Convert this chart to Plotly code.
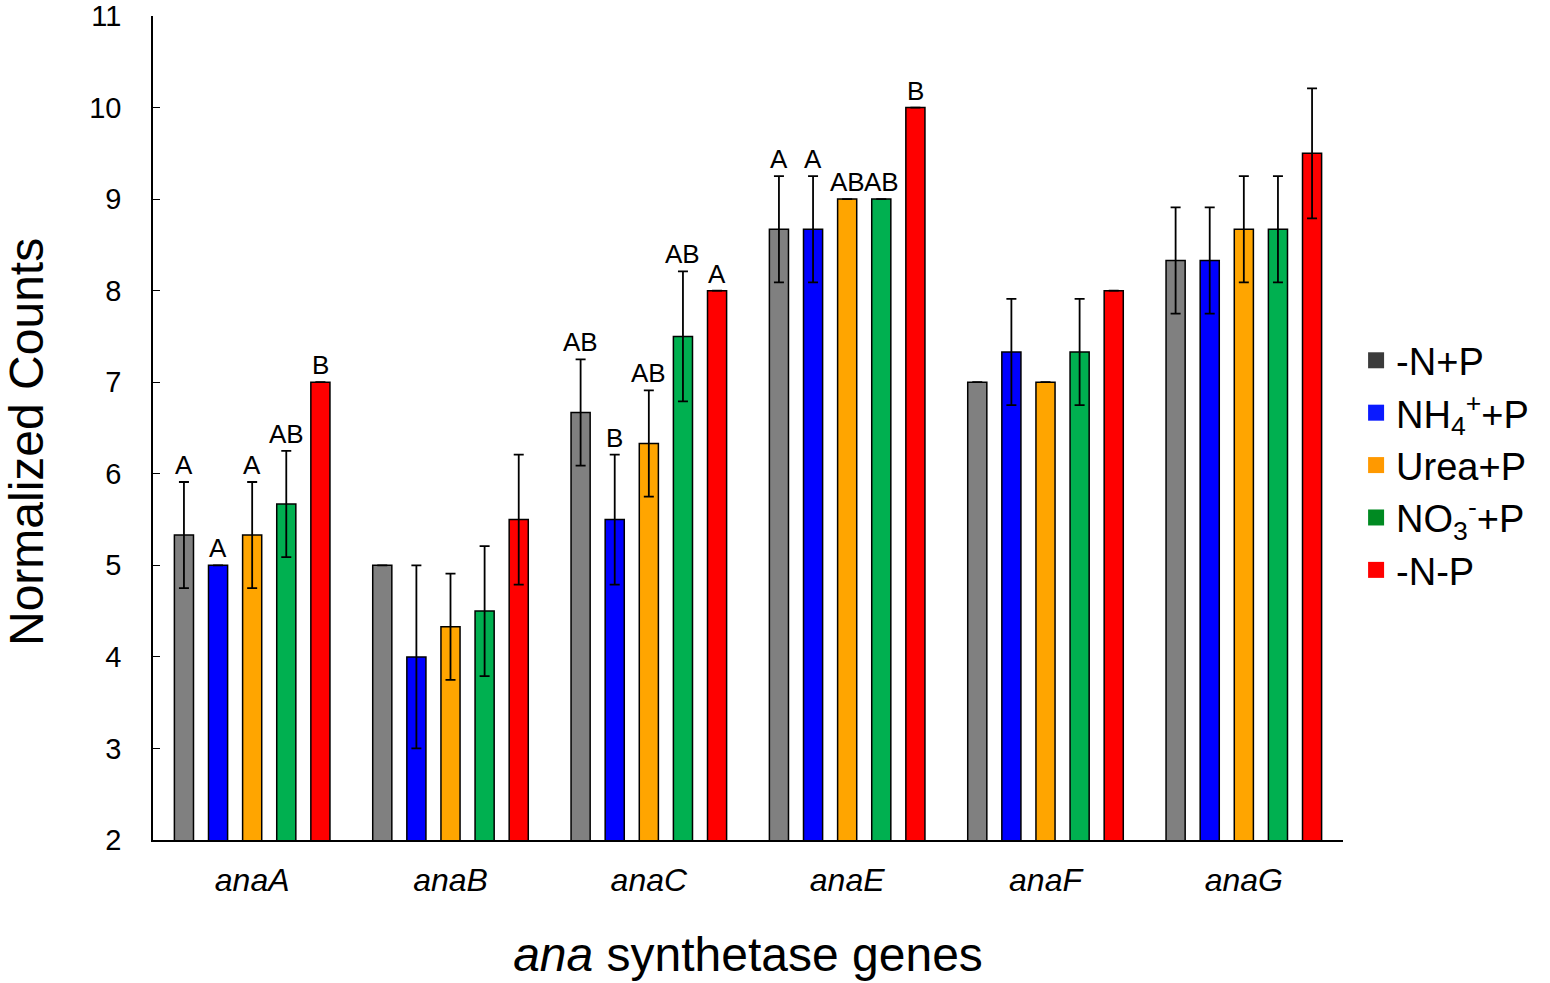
import plotly.graph_objects as go

# data
genes = ['anaA', 'anaB', 'anaC', 'anaE', 'anaF', 'anaG']
series = ['-N+P', 'NH<sub>4</sub><sup>+</sup>+P', 'Urea+P', 'NO<sub>3</sub><sup>-</sup>+P', '-N-P']

minusN_plusP = [5.33, 5.0, 6.67, 8.67, 7.0, 8.33]
nh4_plusP = [5.0, 4.0, 5.5, 8.67, 7.33, 8.33]
urea_plusP = [5.33, 4.33, 6.33, 9.0, 7.0, 8.67]
no3_plusP = [5.67, 4.5, 7.5, 9.0, 7.33, 8.67]
minusN_minusP = [7.0, 5.5, 8.0, 10.0, 8.0, 9.5]

err_minusN_plusP = [0.58, None, 0.58, 0.58, None, 0.58]
err_nh4_plusP = [None, 1.0, 0.71, 0.58, 0.58, 0.58]
err_urea_plusP = [0.58, 0.58, 0.58, None, None, 0.58]
err_no3_plusP = [0.58, 0.71, 0.71, None, 0.58, 0.58]
err_minusN_minusP = [None, 0.71, None, None, None, 0.71]

lt_minusN_plusP = ['A', '', 'AB', 'A', '', '']
lt_nh4_plusP = ['A', '', 'B', 'A', '', '']
lt_urea_plusP = ['A', '', 'AB', 'AB', '', '']
lt_no3_plusP = ['AB', '', 'AB', 'AB', '', '']
lt_minusN_minusP = ['B', '', 'A', 'B', '', '']

values = [minusN_plusP, nh4_plusP, urea_plusP, no3_plusP, minusN_minusP]
errors = [err_minusN_plusP, err_nh4_plusP, err_urea_plusP, err_no3_plusP, err_minusN_minusP]
letters = [lt_minusN_plusP, lt_nh4_plusP, lt_urea_plusP, lt_no3_plusP, lt_minusN_minusP]

bar_colors = ['#808080', '#0000ff', '#ffa500', '#00b050', '#ff0000']
legend_colors = ['#3b3b3b', '#0a1aff', '#ff9900', '#008a22', '#ff0000']

FONT = 'Liberation Sans, Arial, sans-serif'
fig = go.Figure()

for i in range(5):
    fig.add_trace(go.Bar(x=genes, y=values[i], name=series[i], showlegend=False,
                         marker=dict(color=bar_colors[i], line=dict(color='black', width=1.5)),
                         error_y=dict(type='data', array=errors[i], visible=True,
                                      color='black', thickness=1.8, width=5)))
    # legend swatch
    fig.add_trace(go.Scatter(x=[None], y=[None], mode='markers', name=series[i],
                             marker=dict(symbol='square', size=16, color=legend_colors[i])))

# significance letters above bars / error bars
pitch = 34
for i in range(5):
    for j, g in enumerate(genes):
        if letters[i][j]:
            top = values[i][j] + (errors[i][j] or 0)
            fig.add_annotation(x=g, y=top, text=letters[i][j], showarrow=False,
                               xshift=(i - 2) * pitch, yanchor='bottom', yshift=0,
                               font=dict(family=FONT, size=26, color='black'))

# y title as annotation so it can sit a little below the plot centre like the original
fig.add_annotation(x=0, y=0.5, xref='paper', yref='paper', text='Normalized Counts',
                   textangle=-90, showarrow=False, xanchor='center', yanchor='middle',
                   xshift=-127, yshift=-14, font=dict(family=FONT, size=48, color='black'))

fig.update_layout(
    width=1550, height=983,
    plot_bgcolor='white', paper_bgcolor='white',
    margin=dict(l=153, r=207, t=16, b=143, autoexpand=False),
    barmode='group', bargap=0.14, bargroupgap=0.44,
    font=dict(family=FONT, color='black'),
    legend=dict(x=1.011, y=0.455, xanchor='left', yanchor='middle',
                font=dict(family=FONT, size=38), itemwidth=30),
)
fig.update_xaxes(showline=True, linecolor='black', linewidth=1.5, ticks='',
                 automargin=False,
                 tickfont=dict(family=FONT, size=32, style='italic'),
                 ticklabelstandoff=11,
                 title=dict(text='<i>ana</i> synthetase genes', standoff=40,
                            font=dict(family=FONT, size=48)))
fig.update_yaxes(range=[2, 11], dtick=1, showline=True, linecolor='black', linewidth=1.5,
                 automargin=False, ticklabeloverflow='allow',
                 ticks='inside', ticklen=7, tickcolor='black', showgrid=False, zeroline=False,
                 tickfont=dict(family=FONT, size=29), ticklabelstandoff=24)

# drop the page's default body margin so the figure sits at the window corner
fig.write_html('out.html', config={'displayModeBar': False},
               post_script="document.body.style.margin='0';")
